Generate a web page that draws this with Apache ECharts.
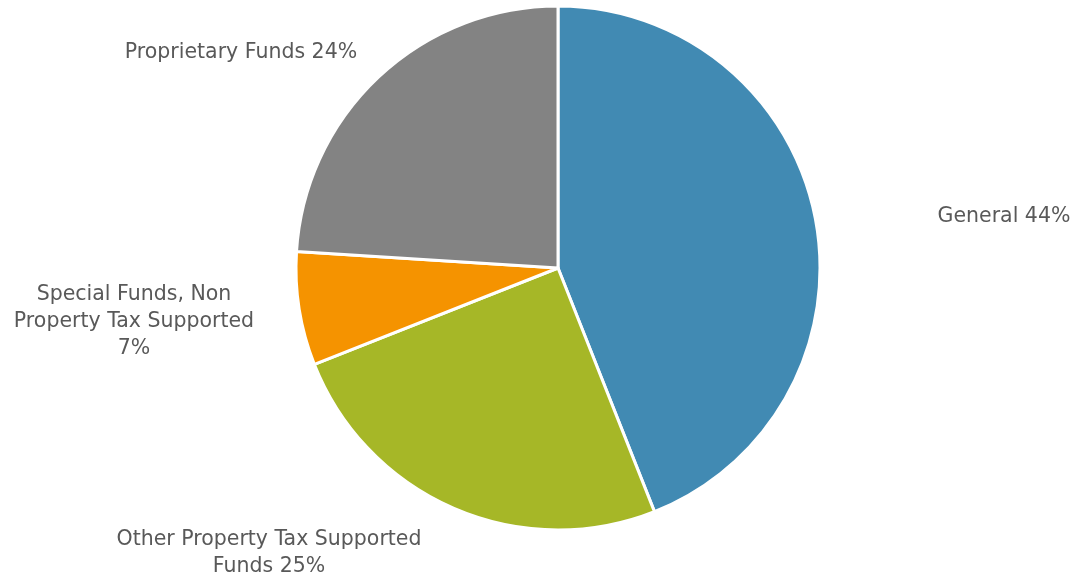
<!DOCTYPE html>
<html>
<head>
<meta charset="utf-8">
<style>
  html, body { margin: 0; padding: 0; background: #ffffff; }
  #chart { width: 1076px; height: 578px; }
</style>
<script src="https://cdn.jsdelivr.net/npm/echarts@6/dist/echarts.min.js"></script>
</head>
<body>
<div id="chart"></div>
<script>
// Fund categories and their share of the total (percent)
const categories = [
  'General',
  'Other Property Tax Supported Funds',
  'Special Funds, Non Property Tax Supported',
  'Proprietary Funds'
];
const shares = [44, 25, 7, 24];
// Text shown beside each slice
const labelTexts = [
  'General 44%',
  'Other Property Tax Supported\nFunds 25%',
  'Special Funds, Non\nProperty Tax Supported\n7%',
  'Proprietary Funds 24%'
];
const colors = ['#418AB3', '#A6B727', '#F59300', '#838383'];

// Where each label block is centred, in chart pixels
const labelSpots = [
  [1004, 217],
  [269, 553],
  [134, 322],
  [241, 53]
];

const chart = echarts.init(document.getElementById('chart'), null, { renderer: 'canvas' });

chart.setOption({
  animation: false,
  series: [{
    type: 'pie',
    center: [558, 268],
    radius: 262,
    startAngle: 90,
    clockwise: true,
    avoidLabelOverlap: false,
    data: categories.map((name, i) => ({
      name: name,
      value: shares[i],
      itemStyle: { color: colors[i] }
    })),
    itemStyle: { borderColor: '#ffffff', borderWidth: 3 },
    emphasis: { disabled: true },
    label: {
      show: true,
      position: 'outside',
      formatter: p => labelTexts[p.dataIndex],
      fontFamily: 'DejaVu Sans',
      fontSize: 20.5,
      lineHeight: 27,
      color: '#595959',
      align: 'center'
    },
    labelLine: { show: false },
    labelLayout: p => ({
      x: labelSpots[p.dataIndex][0],
      y: labelSpots[p.dataIndex][1],
      align: 'center',
      verticalAlign: 'middle'
    })
  }]
});
</script>
</body>
</html>
